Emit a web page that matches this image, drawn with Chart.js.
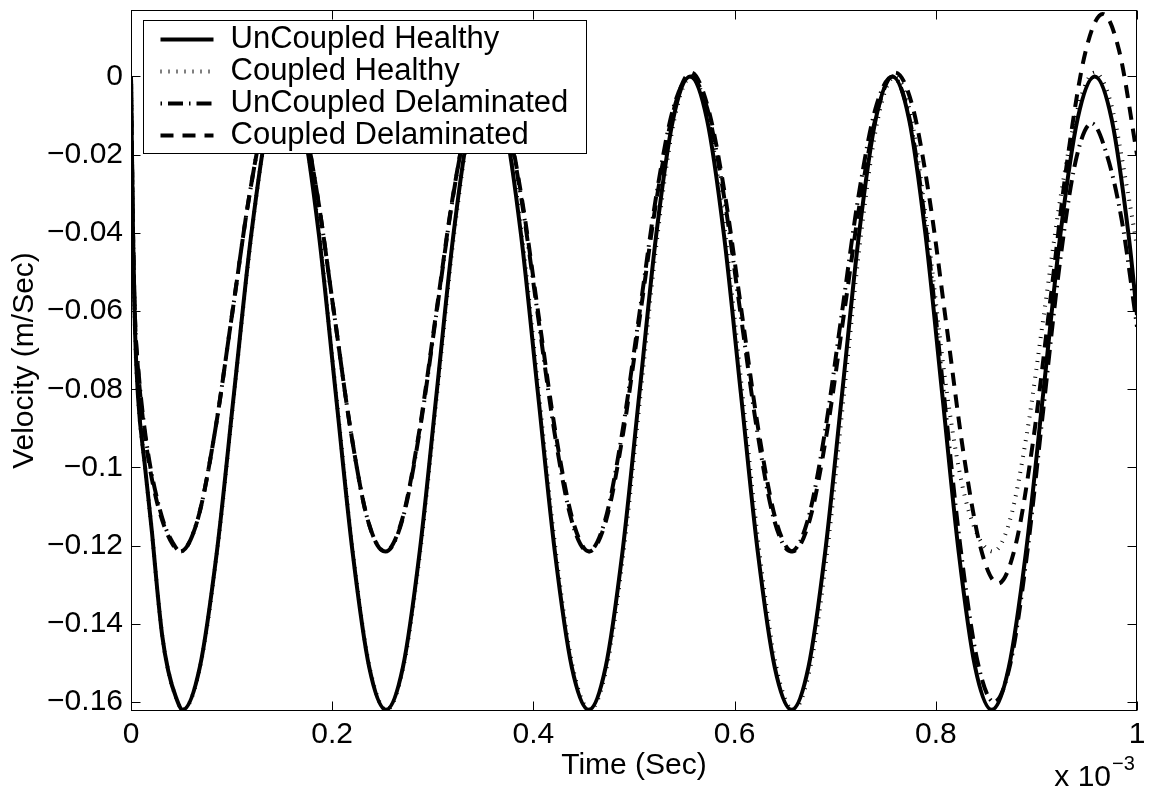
<!DOCTYPE html>
<html>
<head>
<meta charset="utf-8">
<script src="https://cdn.jsdelivr.net/npm/chart.js@4.4.1/dist/chart.umd.min.js"></script>
<style>
  html, body { margin: 0; padding: 0; background: #fff; }
  #wrap { width: 1153px; height: 791px; position: relative; }
</style>
</head>
<body>
<div id="wrap"><canvas id="velocityChart"></canvas></div>
<script>
// time is in units of 1e-3 s, velocity in m/s
const timeUncoupledHealthy = [0, 0.002, 0.004, 0.007, 0.014, 0.021, 0.026, 0.031, 0.037, 0.045, 0.0514,
  0.0684, 0.0854, 0.1024, 0.1195, 0.1365, 0.1535,
  0.1702, 0.1868, 0.2035, 0.2202, 0.2368, 0.2535,
  0.2703, 0.287, 0.3038, 0.3205, 0.3373, 0.354,
  0.3708, 0.3877, 0.4045, 0.4213, 0.4382, 0.455,
  0.4718, 0.4886, 0.5054, 0.5221, 0.5389, 0.5557,
  0.5725, 0.5894, 0.6062, 0.623, 0.6399, 0.6567,
  0.6734, 0.6901, 0.7069, 0.7236, 0.7403, 0.757,
  0.7734, 0.7898, 0.8063, 0.8227, 0.8391, 0.8555,
  0.8726, 0.8897, 0.9068, 0.9238, 0.9409, 0.958,
  0.9748, 0.9916, 1.0];
const velUncoupledHealthy = [0, -0.040, -0.065, -0.082, -0.100, -0.117, -0.131, -0.143, -0.152, -0.159, -0.162,
  -0.1511, -0.1215, -0.081, -0.0405, -0.0109, 0,
  -0.0109, -0.0405, -0.081, -0.1215, -0.1511, -0.162,
  -0.1511, -0.1215, -0.081, -0.0405, -0.0109, 0,
  -0.0109, -0.0405, -0.081, -0.1215, -0.1511, -0.162,
  -0.1511, -0.1215, -0.081, -0.0405, -0.0109, 0,
  -0.0109, -0.0405, -0.081, -0.1215, -0.1511, -0.162,
  -0.1511, -0.1215, -0.081, -0.0405, -0.0109, 0,
  -0.0109, -0.0405, -0.081, -0.1215, -0.1511, -0.162,
  -0.1511, -0.1215, -0.081, -0.0405, -0.0109, 0,
  -0.0109, -0.0405, -0.061];

const timeCoupledHealthy = [0, 0.002, 0.004, 0.007, 0.014, 0.021, 0.026, 0.031, 0.037, 0.045, 0.0515,
  0.0686, 0.0856, 0.1026, 0.1197, 0.1367, 0.1537,
  0.1704, 0.1871, 0.2038, 0.2205, 0.2372, 0.2539,
  0.2707, 0.2875, 0.3043, 0.3211, 0.3379, 0.3547,
  0.3716, 0.3885, 0.4054, 0.4223, 0.4392, 0.4561,
  0.4729, 0.4897, 0.5066, 0.5234, 0.5402, 0.557,
  0.5739, 0.5908, 0.6077, 0.6246, 0.6415, 0.6584,
  0.6752, 0.692, 0.7088, 0.7256, 0.7424, 0.7592,
  0.776, 0.792, 0.809, 0.825, 0.841, 0.857,
  0.8738, 0.8907, 0.9075, 0.9243, 0.9412, 0.958,
  0.9743, 0.9907, 1.0];
const velCoupledHealthy = [0, -0.040, -0.065, -0.082, -0.100, -0.117, -0.131, -0.143, -0.152, -0.159, -0.162,
  -0.1511, -0.1215, -0.081, -0.0405, -0.0109, 0,
  -0.0109, -0.0405, -0.081, -0.1215, -0.1511, -0.162,
  -0.1511, -0.1215, -0.081, -0.0405, -0.0109, 0,
  -0.0109, -0.0405, -0.081, -0.1215, -0.1511, -0.162,
  -0.1511, -0.1215, -0.081, -0.0405, -0.0109, 0,
  -0.0109, -0.0405, -0.081, -0.1215, -0.1511, -0.162,
  -0.1511, -0.1215, -0.081, -0.0405, -0.0109, 0,
  -0.011, -0.040, -0.077, -0.103, -0.117, -0.1215,
  -0.1134, -0.0911, -0.0608, -0.0304, -0.0081, 0.001,
  -0.0071, -0.0294, -0.0435];

const timeUncoupledDelam = [0, 0.002, 0.004, 0.007, 0.012, 0.018, 0.025, 0.033, 0.041, 0.049,
  0.0662, 0.0833, 0.1005, 0.1177, 0.1348, 0.152,
  0.1687, 0.1853, 0.202, 0.2187, 0.2353, 0.253,
  0.2698, 0.2867, 0.3035, 0.3203, 0.3372, 0.354,
  0.3708, 0.3875, 0.4043, 0.421, 0.4378, 0.4545,
  0.4714, 0.4883, 0.5053, 0.5222, 0.5391, 0.556,
  0.5727, 0.5893, 0.606, 0.6227, 0.6393, 0.656,
  0.6728, 0.6897, 0.7065, 0.7233, 0.7402, 0.757,
  0.7738, 0.7907, 0.8075, 0.8243, 0.8412, 0.858,
  0.8742, 0.8903, 0.9065, 0.9227, 0.9388, 0.955,
  0.97, 0.985, 1.0];
const velUncoupledDelam = [0, -0.040, -0.062, -0.074, -0.087, -0.098, -0.107, -0.1145, -0.119, -0.1215,
  -0.1134, -0.0911, -0.0608, -0.0304, -0.0081, 0,
  -0.0081, -0.0304, -0.0608, -0.0911, -0.1134, -0.1215,
  -0.1134, -0.0911, -0.0608, -0.0304, -0.0081, 0,
  -0.0081, -0.0304, -0.0608, -0.0911, -0.1134, -0.1215,
  -0.1134, -0.0911, -0.0608, -0.0304, -0.0081, 0,
  -0.0081, -0.0304, -0.0608, -0.0911, -0.1134, -0.1215,
  -0.1134, -0.0911, -0.0608, -0.0304, -0.0081, 0,
  -0.0107, -0.040, -0.080, -0.120, -0.1493, -0.160,
  -0.1501, -0.123, -0.086, -0.049, -0.0219, -0.012,
  -0.020, -0.037, -0.064];

const timeCoupledDelam = [0, 0.002, 0.004, 0.007, 0.012, 0.018, 0.025, 0.033, 0.041, 0.049,
  0.0662, 0.0833, 0.1005, 0.1177, 0.1348, 0.152,
  0.1687, 0.1853, 0.202, 0.2187, 0.2353, 0.2525,
  0.2694, 0.2863, 0.3032, 0.3201, 0.3371, 0.354,
  0.371, 0.388, 0.405, 0.422, 0.439, 0.4555,
  0.4724, 0.4893, 0.5062, 0.5231, 0.54, 0.5568,
  0.5737, 0.5905, 0.6073, 0.6241, 0.6409, 0.6577,
  0.6747, 0.6917, 0.7087, 0.7257, 0.7427, 0.7597,
  0.777, 0.794, 0.811, 0.828, 0.845, 0.862,
  0.8793, 0.8967, 0.914, 0.9313, 0.9487, 0.966,
  0.9825, 1.0];
const velCoupledDelam = [0, -0.040, -0.062, -0.075, -0.088, -0.099, -0.108, -0.115, -0.1195, -0.1215,
  -0.1134, -0.0911, -0.0608, -0.0304, -0.0081, 0,
  -0.0081, -0.0304, -0.0608, -0.0911, -0.1134, -0.1215,
  -0.1134, -0.0911, -0.0608, -0.0304, -0.0081, 0,
  -0.0081, -0.0304, -0.0608, -0.0911, -0.1134, -0.1215,
  -0.1134, -0.0911, -0.0608, -0.0304, -0.0081, 0.001,
  -0.0081, -0.0304, -0.0608, -0.0911, -0.1134, -0.1215,
  -0.1134, -0.0911, -0.0608, -0.0304, -0.0081, 0.001,
  -0.0078, -0.0317, -0.0644, -0.0971, -0.121, -0.1297,
  -0.1199, -0.0933, -0.0569, -0.0204, 0.0062, 0.016,
  0.0063, -0.020];

const seriesNames = ['UnCoupled Healthy', 'Coupled Healthy', 'UnCoupled Delaminated', 'Coupled Delaminated'];

const xTickValues = [0, 0.2, 0.4, 0.6, 0.8, 1];
const xTickLabels = ['0', '0.2', '0.4', '0.6', '0.8', '1'];
const yTickValues = [-0.16, -0.14, -0.12, -0.1, -0.08, -0.06, -0.04, -0.02, 0];
const yTickLabels = ['\u22120.16', '\u22120.14', '\u22120.12', '\u22120.1', '\u22120.08', '\u22120.06', '\u22120.04', '\u22120.02', '0'];

const FONT = '"Liberation Sans", Arial, Helvetica, sans-serif';
Chart.defaults.font.family = FONT;
Chart.defaults.color = '#000';

function toPoints(times, values) {
  return times.map((t, i) => ({ x: t, y: values[i] }));
}

// matlab-ish line styles: solid, dotted, dash-dot, dashed
function makeDataset(label, times, values, dash, order) {
  return {
    label: label,
    data: toPoints(times, values),
    borderColor: '#000',
    backgroundColor: 'rgba(0,0,0,0)',
    borderWidth: 4,
    borderDash: dash,
    borderCapStyle: 'butt',
    borderJoinStyle: 'round',
    cubicInterpolationMode: 'monotone',
    pointRadius: 0,
    fill: false,
    order: order,
  };
}

const datasets = [
  makeDataset(seriesNames[0], timeUncoupledHealthy, velUncoupledHealthy, [], 4),
  makeDataset(seriesNames[1], timeCoupledHealthy, velCoupledHealthy, [1, 7], 3),
  makeDataset(seriesNames[2], timeUncoupledDelam, velUncoupledDelam, [1.5, 6, 15, 6], 2),
  makeDataset(seriesNames[3], timeCoupledDelam, velCoupledDelam, [13, 9], 1),
];

// box, inward ticks, legend and the exponent label
const matlabAxes = {
  id: 'matlabAxes',
  afterDatasetsDraw(chart) {
    const { ctx, chartArea: a, scales } = chart;
    const xs = scales.x, ys = scales.y;
    const L = Math.round(a.left) + 0.5, R = Math.round(a.right) - 0.5;
    const T = Math.round(a.top) + 0.5, B = Math.round(a.bottom) - 0.5;
    const tick = 9;

    ctx.save();
    ctx.strokeStyle = '#000';
    ctx.lineWidth = 1;
    ctx.setLineDash([]);
    ctx.strokeRect(L, T, R - L, B - T);
    ctx.beginPath();
    xs.ticks.forEach(t => {
      const px = Math.round(xs.getPixelForValue(t.value)) + 0.5;
      ctx.moveTo(px, B); ctx.lineTo(px, B - tick);
      ctx.moveTo(px, T); ctx.lineTo(px, T + tick);
    });
    ys.ticks.forEach(t => {
      const py = Math.round(ys.getPixelForValue(t.value)) + 0.5;
      ctx.moveTo(L, py); ctx.lineTo(L + tick, py);
      ctx.moveTo(R, py); ctx.lineTo(R - tick, py);
    });
    ctx.stroke();

    // legend
    ctx.font = '31px ' + FONT;
    const dsets = chart.data.datasets;
    const textW = Math.max(...dsets.map(d => ctx.measureText(d.label).width));
    const boxL = Math.round(a.left) + 12.5, boxT = Math.round(a.top) + 10.5;
    const rowH = 32;
    const sampleL = boxL + 17, sampleW = 53, textL = boxL + 87;
    const boxR = Math.round(textL + textW + 18) + 0.5;
    const boxB = boxT + 133;
    ctx.fillStyle = '#fff';
    ctx.fillRect(boxL, boxT, boxR - boxL, boxB - boxT);
    ctx.strokeRect(boxL, boxT, boxR - boxL, boxB - boxT);
    dsets.forEach((ds, i) => {
      const cy = boxT + 19 + i * rowH;
      ctx.lineWidth = ds.borderWidth;
      ctx.lineCap = 'butt';
      ctx.setLineDash(ds.borderDash || []);
      ctx.beginPath();
      ctx.moveTo(sampleL, cy);
      ctx.lineTo(sampleL + sampleW, cy);
      ctx.stroke();
      ctx.setLineDash([]);
      ctx.fillStyle = '#000';
      ctx.textAlign = 'left';
      ctx.textBaseline = 'middle';
      ctx.fillText(ds.label, textL, cy);
    });

    // x 10^-3
    ctx.fillStyle = '#000';
    ctx.textAlign = 'right';
    ctx.textBaseline = 'alphabetic';
    ctx.font = '30px ' + FONT;
    ctx.fillText('x 10', 1111, 786);
    ctx.textAlign = 'left';
    ctx.font = '20px ' + FONT;
    ctx.fillText('\u22123', 1112, 770);
    ctx.restore();
  }
};

const ctx = document.getElementById('velocityChart').getContext('2d');
new Chart(ctx, {
  type: 'line',
  data: { datasets: datasets },
  options: {
    responsive: true,
    maintainAspectRatio: false,
    animation: false,
    events: [],
    layout: { padding: { top: 10, right: 16, left: 0, bottom: 0 } },
    plugins: {
      legend: { display: false },
      tooltip: { enabled: false },
    },
    scales: {
      x: {
        type: 'linear',
        min: 0,
        max: 1,
        grid: { display: false, drawTicks: false },
        border: { display: false },
        afterBuildTicks: s => { s.ticks = xTickValues.map(v => ({ value: v })); },
        afterFit: s => { s.height = 80; s.paddingLeft = 0; s.paddingRight = 0; },
        ticks: {
          autoSkip: false,
          maxRotation: 0,
          padding: 9,
          font: { size: 30, lineHeight: 1 },
          color: '#000',
          callback: v => xTickLabels[xTickValues.indexOf(v)],
        },
        title: {
          display: true,
          text: 'Time (Sec)',
          color: '#000',
          font: { size: 30, lineHeight: 1 },
          padding: { top: 0, bottom: 10 },
        },
      },
      y: {
        type: 'linear',
        min: -0.1623,
        max: 0.017,
        grid: { display: false, drawTicks: false },
        border: { display: false },
        afterBuildTicks: s => { s.ticks = yTickValues.map(v => ({ value: v })); },
        afterFit: s => { s.width = 131; s.paddingTop = 0; s.paddingBottom = 0; },
        ticks: {
          autoSkip: false,
          padding: 8,
          font: { size: 30, lineHeight: 1 },
          color: '#000',
          callback: v => yTickLabels[yTickValues.indexOf(v)],
        },
        title: {
          display: true,
          text: 'Velocity (m/Sec)',
          color: '#000',
          font: { size: 30, lineHeight: 1 },
          padding: { top: 10, bottom: 0 },
        },
      },
    },
  },
  plugins: [matlabAxes],
});
</script>
</body>
</html>
